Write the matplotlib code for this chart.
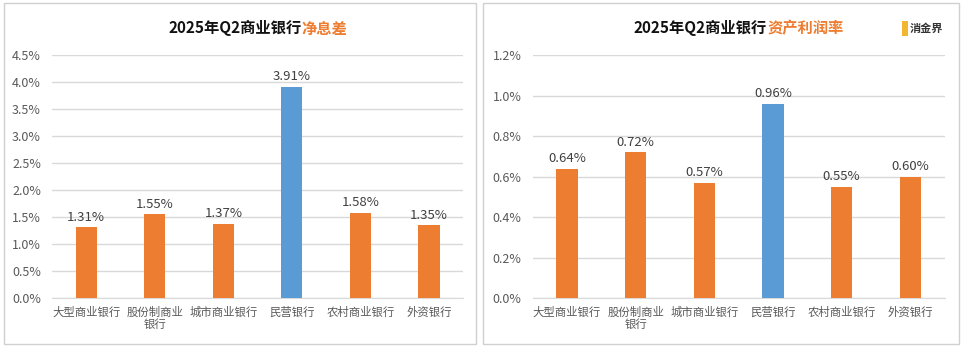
import matplotlib
matplotlib.use("Agg")
import matplotlib.pyplot as plt
from matplotlib.patches import Rectangle
from matplotlib.ticker import FuncFormatter, MultipleLocator

plt.rcParams['font.family'] = ['Noto Sans CJK SC', 'DejaVu Sans']

categories = ["大型商业银行", "股份制商业\n银行", "城市商业银行", "民营银行", "农村商业银行", "外资银行"]
nim = [1.31, 1.55, 1.37, 3.91, 1.58, 1.35]
roa = [0.64, 0.72, 0.57, 0.96, 0.55, 0.60]
highlight = "民营银行"

ORANGE = "#ED7D31"
BLUE = "#5B9BD5"
GRID = "#D9D9D9"
TXT = "#595959"

fig = plt.figure(figsize=(9.63, 3.47), dpi=100)

# panel frames, kept behind the axes
for x0, w in [(0.004, 0.490), (0.502, 0.494)]:
    fig.patches.append(Rectangle((x0, 0.01), w, 0.98, transform=fig.transFigure,
                                 facecolor="white", edgecolor="#D0D0D0", lw=1.0, zorder=-10))


def draw(ax, values, ymax, step, title_a, title_b):
    colors = [BLUE if c == highlight else ORANGE for c in categories]
    x = range(len(categories))
    ax.set_facecolor("none")
    ax.bar(x, values, width=0.31, color=colors, zorder=3)
    for xi, v in zip(x, values):
        ax.text(xi, v + ymax * 0.015, f"{v:.2f}%", ha="center", va="bottom",
                fontsize=9.5, color="#404040")
    ax.set_ylim(0, ymax)
    ax.set_xlim(-0.5, len(categories) - 0.5)
    ax.yaxis.set_major_locator(MultipleLocator(step))
    ax.yaxis.set_major_formatter(FuncFormatter(lambda v, p: f"{v:.1f}%"))
    ax.grid(axis="y", color=GRID, lw=1.0, zorder=0)
    for s in ["top", "right", "left"]:
        ax.spines[s].set_visible(False)
    ax.spines["bottom"].set_color(GRID)
    ax.tick_params(axis="y", length=0, labelsize=9, colors=TXT, pad=8)
    ax.tick_params(axis="x", length=0, colors=TXT, pad=6)
    ax.set_xticks(list(x))
    ax.set_xticklabels(categories, fontsize=8.2, color=TXT, linespacing=1.15)
    t1 = ax.text(0.5, 1.11, title_a, transform=ax.transAxes, ha="right", va="center",
                 fontsize=11, fontweight="bold", color="#111111")
    t2 = ax.annotate(title_b, xy=(1, 0), xycoords=t1, ha="left", va="bottom",
                     fontsize=11, fontweight="bold", color=ORANGE)
    return t1, t2


ax1 = fig.add_axes([0.054, 0.141, 0.427, 0.700])
title1 = draw(ax1, nim, 4.5, 0.5, "2025年Q2商业银行", "净息差")

ax2 = fig.add_axes([0.553, 0.141, 0.428, 0.700])
title2 = draw(ax2, roa, 1.2, 0.2, "2025年Q2商业银行", "资产利润率")

# shift each title pair so the whole line is centred over its axes
fig.canvas.draw()
r = fig.canvas.get_renderer()
for ax, (ta, tb) in [(ax1, title1), (ax2, title2)]:
    wa = ta.get_window_extent(r).width
    wb = tb.get_window_extent(r).width
    aw = ax.get_window_extent(r).width
    ta.set_x(0.5 + (wa - wb) / 2 / aw)

# watermark
fig.patches.append(Rectangle((0.937, 0.895), 0.006, 0.045, transform=fig.transFigure,
                             facecolor="#F2B632", edgecolor="none"))
fig.text(0.945, 0.917, "消金界", fontsize=8, fontweight="bold", color="#333333", va="center")

fig.savefig("out.png", dpi=100)
